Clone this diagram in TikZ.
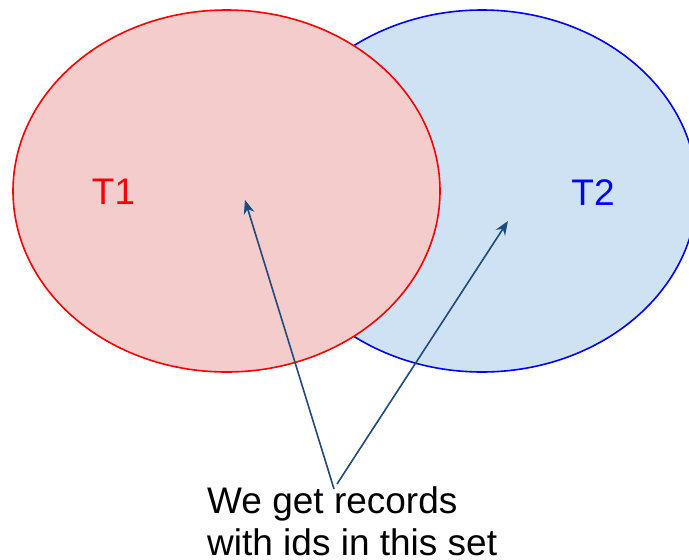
\documentclass[tikz,border=0pt]{standalone}
\usepackage{fontspec}
\setmainfont{Liberation Sans}
\usetikzlibrary{arrows.meta}
\definecolor{setAline}{HTML}{FF0000}
\definecolor{setAfill}{HTML}{F4CCCC}
\definecolor{setBline}{HTML}{0000FF}
\definecolor{setBfill}{HTML}{CFE2F3}
\definecolor{pointer}{HTML}{1F4A7C}
\tikzset{
  setshape/.style={line width=1.6pt},
  setlabel/.style={inner sep=0pt, font=\fontsize{37}{40}\selectfont},
  pointerline/.style={draw=pointer, line width=1.6pt, -{Stealth[length=14pt,width=11pt]}},
  caption/.style={inner sep=0pt, align=left, font=\fontsize{37}{42}\selectfont}
}
\begin{document}
\begin{tikzpicture}[x=1pt,y=-1pt]
  \useasboundingbox (0,0) rectangle (689,560);
  % the two sets, T2 behind T1
  \draw[setshape, draw=setBline, fill=setBfill] (482,191) ellipse [x radius=215, y radius=181];
  \draw[setshape, draw=setAline, fill=setAfill] (226.5,191) ellipse [x radius=213.5, y radius=181];
  \node[setlabel, text=setAline] (t1) at (113.5,191.5) {T1};
  \node[setlabel, text=setBline] (t2) at (593,192.5) {T2};
  % caption and its pointers
  \node[caption, anchor=north west] (cap) at (207,486) {We get records\\with ids in this set};
  \coordinate (s1) at (334,489);
  \coordinate (s2) at (337,484);
  \coordinate (p1) at (245,200);
  \coordinate (p2) at (508,221);
  \draw[pointerline] (s1) -- (p1);
  \draw[pointerline] (s2) -- (p2);
\end{tikzpicture}
\end{document}
